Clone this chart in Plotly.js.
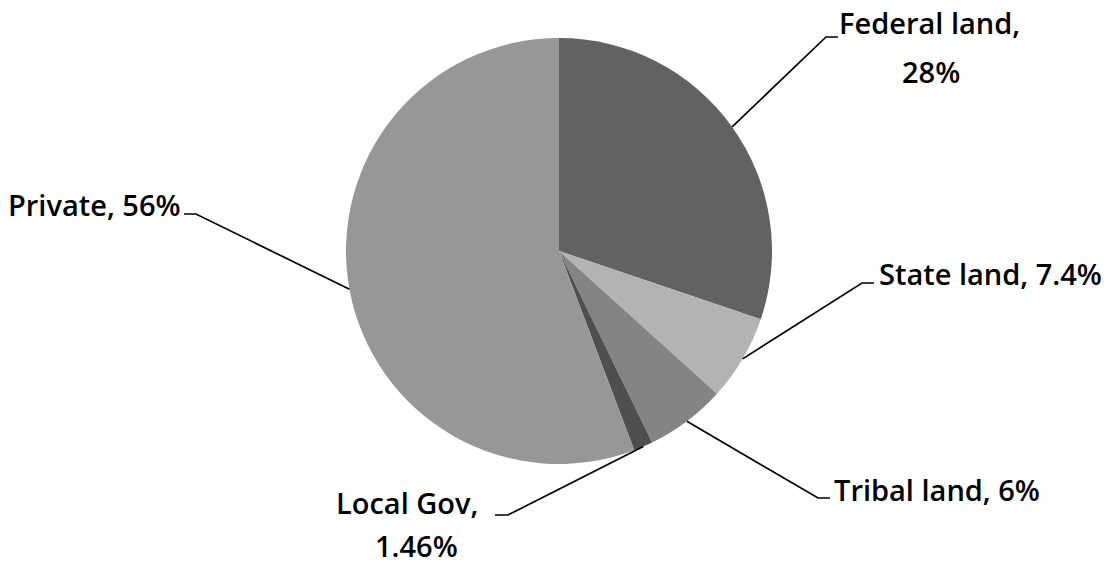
<!DOCTYPE html>
<html>
<head>
<meta charset="utf-8">
<script src="https://cdn.plot.ly/plotly-3.0.1.min.js"></script>
<style>html,body{margin:0;padding:0;background:#fff}#chart{width:1113px;height:568px}</style>
</head>
<body>
<div id="chart"></div>
<script>
// ---- data ----
var categories = ['Federal land', 'State land', 'Tribal land', 'Local Gov', 'Private'];
var shares = [30.2, 6.5, 6.1, 1.45, 55.75];          // slice sizes as drawn
var shownPct = ['28%', '7.4%', '6%', '1.46%', '56%']; // percentages printed on labels
var sliceColors = ['#626262', '#b3b3b3', '#848484', '#4f4f4f', '#979797'];

// ---- layout geometry (pixels) ----
var W = 1113, H = 568;
var CX = 559, CY = 251, R = 213;
var leader = [
  {elbow: [826, 37], end: [838, 37]},
  {elbow: [862, 283], end: [874, 283]},
  {elbow: [818, 498], end: [830, 498]},
  {elbow: [508, 515], end: [495, 515]},
  {elbow: [196, 214], end: [184, 214]}
];
var textSpots = [
  [{t: categories[0] + ',', x: 929, y: 22, xa: 'center'}, {t: shownPct[0], x: 931, y: 71, xa: 'center'}],
  [{t: categories[1] + ', ' + shownPct[1], x: 877, y: 273, xa: 'left'}],
  [{t: categories[2] + ', ' + shownPct[2], x: 832, y: 489, xa: 'left'}],
  [{t: categories[3] + ',', x: 407, y: 502, xa: 'center'}, {t: shownPct[3], x: 416, y: 545, xa: 'center'}],
  [{t: categories[4] + ', ' + shownPct[4], x: 94, y: 204, xa: 'center'}]
];

var total = shares.reduce(function (a, b) { return a + b; }, 0);
var shapes = [], annotations = [];
var cum = 0;
for (var i = 0; i < shares.length; i++) {
  var mid = (cum + shares[i] / 2) / total * 2 * Math.PI;
  cum += shares[i];
  var px = CX + R * Math.sin(mid), py = CY - R * Math.cos(mid);
  var L = leader[i];
  shapes.push({
    type: 'path', xref: 'x', yref: 'y',
    path: 'M' + px + ',' + py + ' L' + L.elbow[0] + ',' + L.elbow[1] + ' L' + L.end[0] + ',' + L.end[1],
    line: {color: '#000', width: 1.7}
  });
  textSpots[i].forEach(function (s) {
    annotations.push({
      xref: 'x', yref: 'y', x: s.x, y: s.y, text: s.t, showarrow: false,
      xanchor: s.xa, yanchor: 'middle',
      font: {family: 'Open Sans, sans-serif', size: 29, color: '#000', weight: 600}
    });
  });
}

var trace = {
  type: 'pie',
  labels: categories,
  values: shares,
  sort: false,
  direction: 'clockwise',
  rotation: 0,
  textinfo: 'none',
  hoverinfo: 'label+percent',
  marker: {colors: sliceColors, line: {width: 0}},
  domain: {x: [(CX - R) / W, (CX + R) / W], y: [(H - CY - R) / H, (H - CY + R) / H]},
  showlegend: false
};

var layout = {
  width: W, height: H,
  margin: {l: 0, r: 0, t: 0, b: 0},
  paper_bgcolor: '#fff', plot_bgcolor: 'rgba(0,0,0,0)',
  xaxis: {range: [0, W], visible: false, fixedrange: true},
  yaxis: {range: [H, 0], visible: false, fixedrange: true},
  shapes: shapes,
  annotations: annotations,
  showlegend: false
};

Plotly.newPlot('chart', [trace], layout, {staticPlot: true, displayModeBar: false});
</script>
</body>
</html>
